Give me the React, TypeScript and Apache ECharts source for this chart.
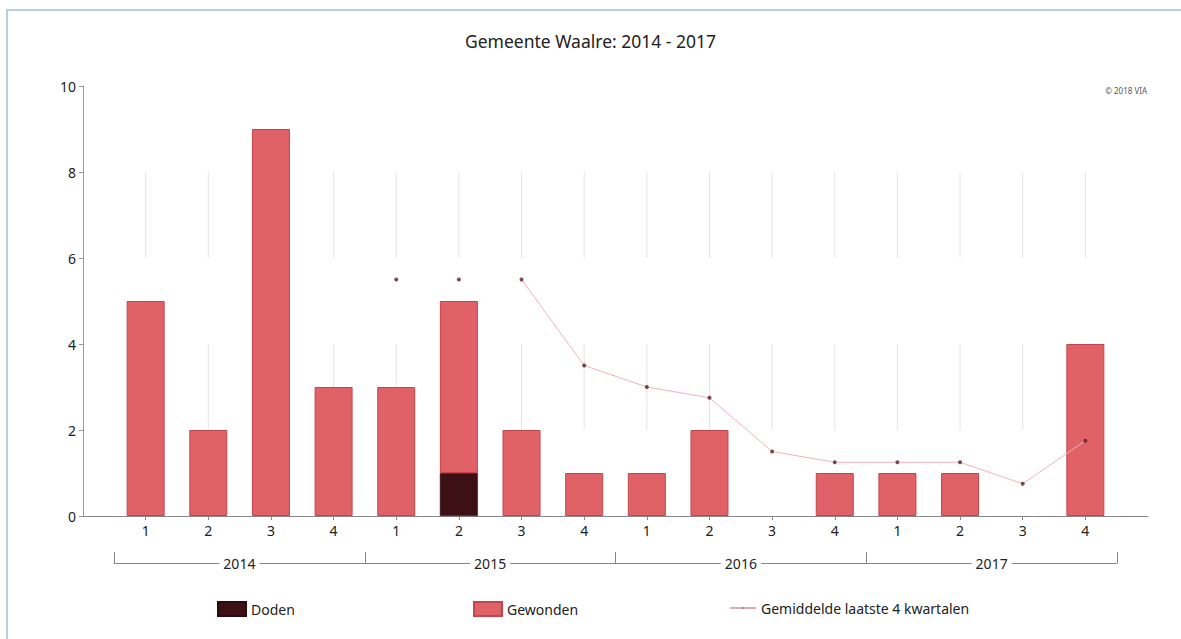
import React, { useEffect, useRef } from "react";
import * as echarts from "echarts";

// ---- data ----
const titleText = "Gemeente Waalre: 2014 - 2017";
const copyright = "\u00a9 2018 VIA";
const years = ["2014", "2015", "2016", "2017"];
const quarterLabels = ["1", "2", "3", "4", "1", "2", "3", "4", "1", "2", "3", "4", "1", "2", "3", "4"];
const doden = [0, 0, 0, 0, 0, 1, 0, 0, 0, 0, 0, 0, 0, 0, 0, 0];
const gewonden = [5, 2, 9, 3, 3, 4, 2, 1, 1, 2, 0, 1, 1, 1, 0, 4];
const gemiddelde: (number | null)[] = [null, null, null, null, 5.5, 5.5, 5.5, 3.5, 3, 2.75, 1.5, 1.25, 1.25, 1.25, 0.75, 1.75];
const lineStartIndex = 6; // the connecting line starts at this quarter
const gridBands = [
  [2, 4],
  [6, 8],
];

const FONT = "Noto Sans";
const AVG = "Gemiddelde laatste 4 kwartalen";

export default function App() {
  const ref = useRef<HTMLDivElement>(null);

  useEffect(() => {
    if (!ref.current) return;
    const chart = echarts.init(ref.current, null, { renderer: "svg" });

    // category axis with one empty slot at each end (axis extends beyond the quarters)
    const cats = ["", ...quarterLabels, ""];
    const last = cats.length - 1;
    const pos = (i: number) => i + 1;
    const gridData: number[][] = [];
    quarterLabels.forEach((_, i) => gridBands.forEach((b) => gridData.push([pos(i), b[0], b[1]])));
    const nz = (v: number) => (v === 0 ? null : v);

    const legendText = { fontFamily: FONT, fontSize: 14, color: "#222" };

    const option: any = {
      animation: false,
      textStyle: { fontFamily: FONT },
      title: [
        {
          text: titleText,
          left: "center",
          top: 27,
          textStyle: { fontFamily: FONT, fontSize: 17.5, fontWeight: "normal", color: "#222" },
        },
        {
          text: copyright,
          right: 29,
          top: 81,
          textStyle: { fontFamily: FONT, fontSize: 8, fontWeight: "normal", color: "#555" },
        },
      ],
      legend: [
        {
          data: ["Doden"],
          left: 212,
          top: 596,
          itemWidth: 28,
          itemHeight: 14,
          icon: "rect",
          textStyle: legendText,
          selectedMode: false,
        },
        {
          data: ["Gewonden"],
          left: 468,
          top: 596,
          itemWidth: 28,
          itemHeight: 14,
          icon: "rect",
          textStyle: legendText,
          selectedMode: false,
        },
        {
          data: [
            {
              name: AVG,
              icon: "path://M0,1 L40,1 L40,2.4 L0,2.4 Z M19.2,0 L20.8,0 L20.8,3.4 L19.2,3.4 Z",
              itemStyle: { color: "#9e3340", borderWidth: 0 },
            },
          ],
          left: 725,
          top: 596,
          itemWidth: 26,
          itemHeight: 14,
          textStyle: legendText,
          selectedMode: false,
        },
      ],
      grid: [
        { left: 83, right: 33, top: 86, bottom: 123 },
        { left: 114, right: 64, top: 551, height: 12 },
      ],
      xAxis: [
        {
          type: "category",
          gridIndex: 0,
          data: cats,
          boundaryGap: false,
          splitLine: { show: false },
          axisLine: { show: true, lineStyle: { color: "#888", width: 1 } },
          axisTick: {
            show: true,
            length: 4,
            interval: (i: number) => i > 0 && i < last,
            lineStyle: { color: "#888" },
          },
          axisLabel: {
            interval: 0,
            margin: 7,
            fontSize: 14,
            color: "#222",
            fontFamily: FONT,
          },
        },
        {
          type: "category",
          gridIndex: 1,
          data: years,
          position: "bottom",
          boundaryGap: true,
          axisLine: { show: true, lineStyle: { color: "#888", width: 1 } },
          axisTick: { show: true, inside: true, length: 11, lineStyle: { color: "#888" } },
          axisLabel: {
            margin: 0,
            verticalAlign: "middle",
            backgroundColor: "#ffffff",
            padding: [0, 4],
            fontSize: 14,
            color: "#222",
            fontFamily: FONT,
          },
        },
      ],
      yAxis: [
        {
          type: "value",
          gridIndex: 0,
          min: 0,
          max: 10,
          interval: 2,
          splitLine: { show: false },
          axisLine: { show: true, onZero: false, lineStyle: { color: "#999", width: 1 } },
          axisTick: { show: true, length: 4, lineStyle: { color: "#999" } },
          axisLabel: { margin: 7, fontSize: 14, color: "#222", fontFamily: FONT },
        },
        { type: "value", gridIndex: 1, show: false, min: 0, max: 1 },
      ],
      series: [
        {
          type: "scatter",
          name: AVG,
          z: 4,
          symbol: "circle",
          symbolSize: 4,
          data: gemiddelde.map((v, i) => [pos(i), v]).filter((d) => d[1] !== null),
          itemStyle: { color: "#5e1b26" },
        },
        {
          type: "custom",
          name: "grid",
          xAxisIndex: 0,
          yAxisIndex: 0,
          silent: true,
          z: 0,
          encode: { x: 0, y: [1, 2] },
          data: gridData,
          renderItem: (_params: any, api: any) => {
            const p0 = api.coord([api.value(0), api.value(1)]);
            const p1 = api.coord([api.value(0), api.value(2)]);
            return {
              type: "line",
              shape: { x1: p0[0], y1: p0[1], x2: p1[0], y2: p1[1] },
              style: { stroke: "#e4e4e4", lineWidth: 1 },
            };
          },
        },
        {
          type: "bar",
          name: "Doden",
          stack: "total",
          barWidth: 38,
          z: 2,
          data: [null, ...doden.map(nz), null],
          itemStyle: { color: "#3d1016", borderColor: "#2e0a10", borderWidth: 0.5 },
        },
        {
          type: "bar",
          name: "Gewonden",
          stack: "total",
          barWidth: 38,
          z: 2,
          data: [null, ...gewonden.map(nz), null],
          itemStyle: { color: "#e06266", borderColor: "#c2454b", borderWidth: 1 },
        },
        {
          type: "line",
          name: "gemiddelde-lijn",
          z: 3,
          showSymbol: false,
          symbol: "none",
          connectNulls: false,
          data: [null, ...gemiddelde.map((v, i) => (i >= lineStartIndex ? v : null)), null],
          lineStyle: { color: "#f0b3bb", width: 1 },
          itemStyle: { color: "#a3343f" },
        },
      ],
    };

    chart.setOption(option);
    return () => chart.dispose();
  }, []);

  return (
    <div
      style={{
        position: "fixed",
        left: 0,
        top: 0,
        width: 1181,
        height: 639,
        background: "#fff",
        overflow: "hidden",
      }}
    >
      <div ref={ref} style={{ position: "absolute", left: 0, top: 0, width: 1181, height: 639 }} />
      <div
        style={{
          position: "absolute",
          left: 6,
          top: 9,
          width: 1400,
          height: 900,
          borderTop: "2px solid #b9cfe0",
          borderLeft: "2px solid #b9cfe0",
          boxSizing: "border-box",
          pointerEvents: "none",
        }}
      />
    </div>
  );
}
